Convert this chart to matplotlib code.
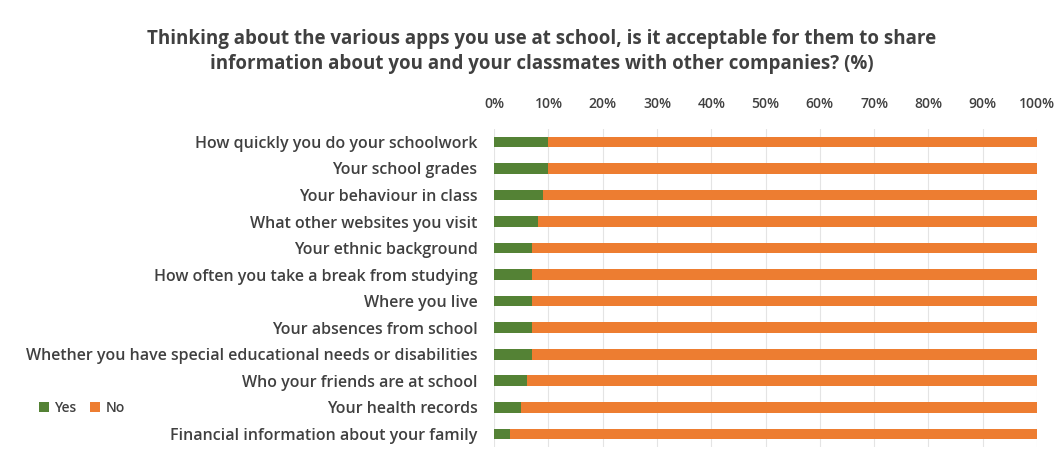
import matplotlib.pyplot as plt
from matplotlib.ticker import PercentFormatter

plt.rcParams['font.family'] = ['Open Sans', 'DejaVu Sans']

categories = [
    "How quickly you do your schoolwork",
    "Your school grades",
    "Your behaviour in class",
    "What other websites you visit",
    "Your ethnic background",
    "How often you take a break from studying",
    "Where you live",
    "Your absences from school",
    "Whether you have special educational needs or disabilities",
    "Who your friends are at school",
    "Your health records",
    "Financial information about your family",
]
yes = [10, 10, 9, 8, 7, 7, 7, 7, 7, 6, 5, 3]
no = [100 - v for v in yes]

green = "#548235"
orange = "#ED7D31"
text_col = "#404040"

fig = plt.figure(figsize=(10.56, 4.53), dpi=100)
ax = fig.add_axes([0.468, 0.013, 0.514, 0.703])

pos = list(range(len(categories)))
ax.barh(pos, yes, height=0.4, color=green, label="Yes")
ax.barh(pos, no, left=yes, height=0.4, color=orange, label="No")

ax.set_xlim(0, 100)
ax.set_ylim(len(categories) - 0.5, -0.5)
ax.set_yticks(pos)
ax.set_yticklabels(categories, fontsize=11.5, fontweight="semibold", color=text_col)
ax.set_xticks(range(0, 101, 10))
ax.xaxis.set_major_formatter(PercentFormatter(decimals=0))
ax.xaxis.tick_top()
ax.tick_params(axis="x", labelsize=10, colors=text_col, length=0, pad=13)
ax.tick_params(axis="y", length=0, pad=12)
for lab in ax.get_xticklabels():
    lab.set_fontweight("semibold")
ax.grid(axis="x", color="#e4e4e4", linewidth=0.8)
ax.set_axisbelow(True)
for s in ax.spines.values():
    s.set_visible(False)

fig.suptitle("Thinking about the various apps you use at school, is it acceptable for them to share\n"
             "information about you and your classmates with other companies? (%)",
             x=0.513, y=0.935, fontsize=13.5, fontweight="bold", color=text_col, linespacing=1.3)

fig.legend(loc="center left", bbox_to_anchor=(0.025, 0.10), ncol=2, frameon=False,
           handlelength=0.7, handleheight=0.7, columnspacing=1.0,
           handletextpad=0.4, labelcolor=text_col, prop={"weight": "semibold", "size": 10})

fig.savefig("out.png", dpi=100, facecolor="white")
